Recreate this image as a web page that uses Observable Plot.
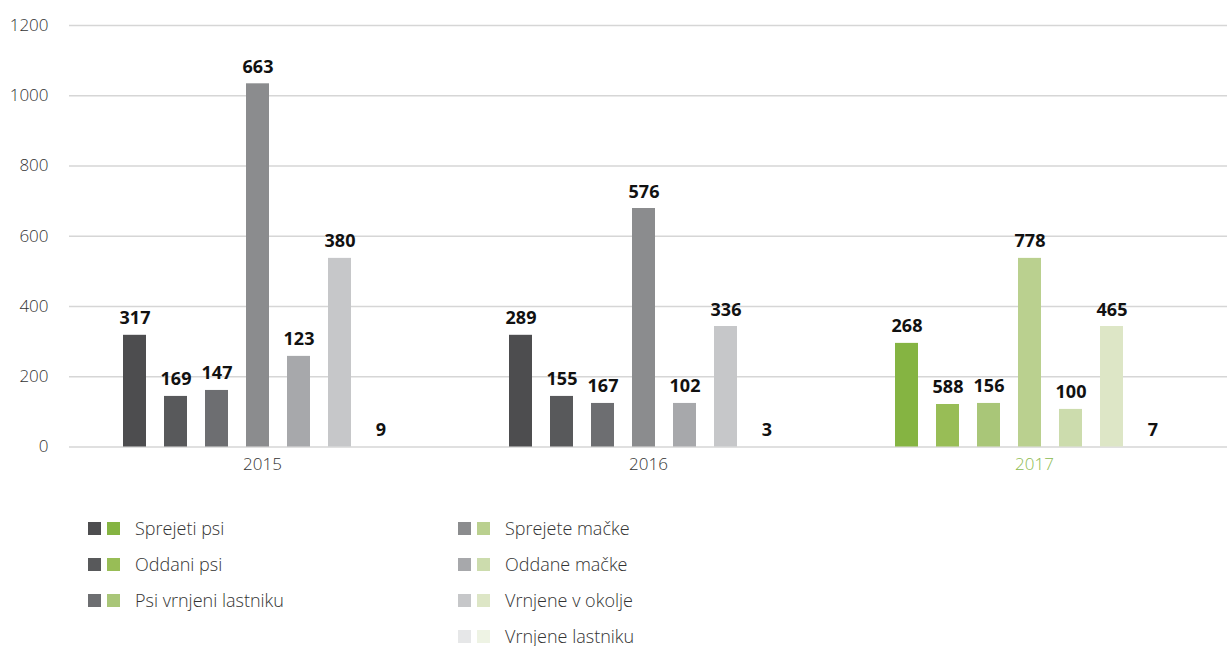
<!DOCTYPE html>
<html>
<head>
<meta charset="utf-8">
<script src="https://cdn.jsdelivr.net/npm/d3@7"></script>
<script src="https://cdn.jsdelivr.net/npm/@observablehq/plot@0.6"></script>
<style>
  body { margin: 0; background: #fff; font-family: "Open Sans", sans-serif; }
  #chart svg { display: block; }
  #legend { display: grid; grid-template-columns: 370px 370px; grid-auto-rows: 36px; margin-left: 88px; padding-top: 20px; }
  .item { display: flex; align-items: center; font-size: 18px; font-weight: 300; color: #333; }
  .sw { width: 13px; height: 13px; margin-right: 6px; }
  .sw + .sw { margin-right: 15px; }
</style>
</head>
<body>
<div id="chart"></div>
<div id="legend"></div>
<script>
const years = ["2015", "2016", "2017"];
const series = ["Sprejeti psi", "Oddani psi", "Psi vrnjeni lastniku", "Sprejete mačke", "Oddane mačke", "Vrnjene v okolje", "Vrnjene lastniku"];
// bar heights as drawn in the picture
const bars2015 = [318, 144, 161, 1034, 258, 537, 0];
const bars2016 = [318, 144, 124, 679, 124, 343, 0];
const bars2017 = [295, 121, 124, 537, 107, 343, 0];
// value labels printed above the bars
const labels2015 = [317, 169, 147, 663, 123, 380, 9];
const labels2016 = [289, 155, 167, 576, 102, 336, 3];
const labels2017 = [268, 588, 156, 778, 100, 465, 7];
const greys = ["#4d4d4f", "#58595b", "#6d6e71", "#8b8c8e", "#a7a8ab", "#c6c7c9", "#e6e7e8"];
const greens = ["#85b442", "#98bd56", "#a9c678", "#bad08f", "#ccdcad", "#dde6c6", "#eef3e4"];
const yTicks = [0, 200, 400, 600, 800, 1000, 1200];

const barsByYear = {"2015": bars2015, "2016": bars2016, "2017": bars2017};
const labelsByYear = {"2015": labels2015, "2016": labels2016, "2017": labels2017};
const rows = [];
for (const y of years) {
  series.forEach((s, i) => {
    rows.push({year: y, series: s, barH: barsByYear[y][i], label: labelsByYear[y][i],
      color: y === "2017" ? greens[i] : greys[i]});
  });
}

const chart = Plot.plot({
  width: 1227,
  height: 490,
  marginLeft: 69,
  marginRight: 0,
  marginTop: 25,
  marginBottom: 43.5,
  style: {fontFamily: "'Open Sans', sans-serif", fontSize: "16px", color: "#333", background: "#fff"},
  fx: {domain: years, padding: 0, axis: null},
  x: {domain: series, paddingInner: 0.443, paddingOuter: 1.39, align: 0.457, axis: null},
  y: {domain: [0, 1200], axis: null},
  marks: [
    Plot.gridY(yTicks, {stroke: "#d6d6d6", strokeOpacity: 1, strokeWidth: 1.5}),
    Plot.axisY(yTicks, {label: null, tickSize: 0, tickPadding: 21, fontSize: 17, fontWeight: 300, fill: "#333", tickFormat: d => String(d)}),
    Plot.barY(rows, {fx: "year", x: "series", y: "barH", fill: "color"}),
    Plot.text(rows, {fx: "year", x: "series", y: "barH", text: d => String(d.label), dy: -11, lineAnchor: "bottom", fontWeight: "bold", fontSize: 18, fill: "#111"}),
    Plot.text(years, {fx: d => d, frameAnchor: "bottom", dy: 23, text: d => d, fontSize: 17, fontWeight: 300, fill: d => d === "2017" ? "#8cba4f" : "#333"})
  ]
});
document.getElementById("chart").appendChild(chart);

const legend = document.getElementById("legend");
series.forEach((s, i) => {
  const item = document.createElement("div");
  item.className = "item";
  item.style.gridColumn = i < 3 ? "1" : "2";
  item.style.gridRow = String(i < 3 ? i + 1 : i - 2);
  item.innerHTML = `<span class="sw" style="background:${greys[i]}"></span><span class="sw" style="background:${greens[i]}"></span><span>${s}</span>`;
  legend.appendChild(item);
});
</script>
</body>
</html>
